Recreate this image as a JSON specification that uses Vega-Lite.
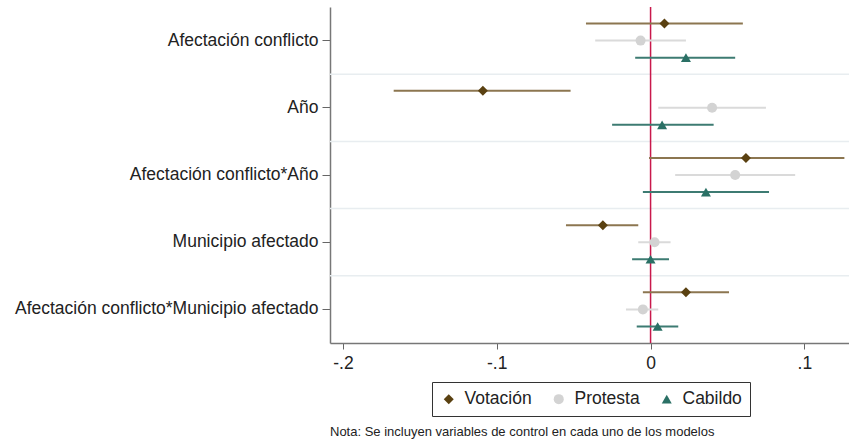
{
  "$schema": "https://vega.github.io/schema/vega-lite/v6.json",
  "width": 519,
  "height": 336,
  "autosize": "none",
  "padding": {"left": 330, "top": 7, "right": 0, "bottom": 99},
  "background": "white",
  "config": {
    "font": "Liberation Sans",
    "view": {"stroke": null}
  },
  "title": {
    "text": "Nota: Se incluyen variables de control en cada uno de los modelos",
    "orient": "bottom",
    "anchor": "start",
    "frame": "group",
    "fontSize": 13,
    "fontWeight": "normal",
    "font": "Liberation Sans",
    "color": "#222",
    "offset": 9
  },
  "data": {
    "values": [
      {"var": "Afectación conflicto", "modelo": "Votación", "b": 0.009, "lo": -0.042, "hi": 0.060},
      {"var": "Afectación conflicto", "modelo": "Protesta", "b": -0.0065, "lo": -0.036, "hi": 0.023},
      {"var": "Afectación conflicto", "modelo": "Cabildo", "b": 0.023, "lo": -0.010, "hi": 0.055},
      {"var": "Año", "modelo": "Votación", "b": -0.109, "lo": -0.167, "hi": -0.052},
      {"var": "Año", "modelo": "Protesta", "b": 0.040, "lo": 0.005, "hi": 0.075},
      {"var": "Año", "modelo": "Cabildo", "b": 0.0075, "lo": -0.025, "hi": 0.041},
      {"var": "Afectación conflicto*Año", "modelo": "Votación", "b": 0.062, "lo": -0.001, "hi": 0.126},
      {"var": "Afectación conflicto*Año", "modelo": "Protesta", "b": 0.055, "lo": 0.016, "hi": 0.094},
      {"var": "Afectación conflicto*Año", "modelo": "Cabildo", "b": 0.036, "lo": -0.005, "hi": 0.077},
      {"var": "Municipio afectado", "modelo": "Votación", "b": -0.031, "lo": -0.055, "hi": -0.008},
      {"var": "Municipio afectado", "modelo": "Protesta", "b": 0.0026, "lo": -0.008, "hi": 0.013},
      {"var": "Municipio afectado", "modelo": "Cabildo", "b": 0.0, "lo": -0.012, "hi": 0.012},
      {"var": "Afectación conflicto*Municipio afectado", "modelo": "Votación", "b": 0.023, "lo": -0.005, "hi": 0.051},
      {"var": "Afectación conflicto*Municipio afectado", "modelo": "Protesta", "b": -0.005, "lo": -0.016, "hi": 0.005},
      {"var": "Afectación conflicto*Municipio afectado", "modelo": "Cabildo", "b": 0.0046, "lo": -0.009, "hi": 0.018}
    ]
  },
  "encoding": {
    "y": {
      "field": "var",
      "type": "nominal",
      "sort": null,
      "scale": {"domain": ["Afectación conflicto", "Año", "Afectación conflicto*Año", "Municipio afectado", "Afectación conflicto*Municipio afectado"], "paddingInner": 0, "paddingOuter": 0},
      "axis": {
        "title": null,
        "labelFontSize": 17.5,
        "labelColor": "#222",
        "labelPadding": 4,
        "tickSize": 8,
        "tickColor": "#666",
        "domainColor": "#777",
        "domainWidth": 1.5,
        "grid": false,
        "labelLimit": 400
      }
    }
  },
  "layer": [
    {
      "data": {"values": [
        {"var": "Año"},
        {"var": "Afectación conflicto*Año"},
        {"var": "Municipio afectado"},
        {"var": "Afectación conflicto*Municipio afectado"}
      ]},
      "mark": {"type": "rule", "color": "#e8edf0", "strokeWidth": 1.5},
      "encoding": {
        "y": {"field": "var", "type": "nominal", "bandPosition": 0}
      }
    },
    {
      "data": {"values": [{"z": 0}]},
      "mark": {"type": "rule", "color": "#c8184b", "strokeWidth": 1.5},
      "encoding": {"x": {"field": "z", "type": "quantitative"}, "y": null}
    },
    {
      "mark": {"type": "rule", "strokeWidth": 2},
      "encoding": {
        "x": {"field": "lo", "type": "quantitative"},
        "x2": {"field": "hi"},
        "yOffset": {"field": "modelo", "type": "nominal", "sort": ["Votación", "Protesta", "Cabildo"], "scale": {"paddingInner": 0, "paddingOuter": 0.47}},
        "stroke": {"field": "modelo", "type": "nominal", "legend": null,
          "scale": {"domain": ["Cabildo", "Protesta", "Votación"], "range": ["#3d7b72", "#dadada", "#8c7650"]}}
      }
    },
    {
      "mark": {"type": "point", "filled": true, "opacity": 1, "size": 100},
      "encoding": {
        "x": {
          "field": "b",
          "type": "quantitative",
          "scale": {"domain": [-0.2084, 0.129], "nice": false, "zero": false},
          "axis": {
            "title": null,
            "values": [-0.2, -0.1, 0, 0.1],
            "labelExpr": "datum.value == 0 ? '0' : (datum.value < 0 ? '-' + replace(format(-datum.value, '.1f'), '0.', '.') : replace(format(datum.value, '.1f'), '0.', '.'))",
            "labelFontSize": 17.5,
            "labelColor": "#222",
            "labelPadding": 5,
            "tickSize": 6,
            "tickColor": "#666",
            "domainColor": "#777",
            "domainWidth": 1.5,
            "grid": false
          }
        },
        "yOffset": {"field": "modelo", "type": "nominal", "sort": ["Votación", "Protesta", "Cabildo"], "scale": {"paddingInner": 0, "paddingOuter": 0.47}},
        "color": {"field": "modelo", "type": "nominal",
          "scale": {"domain": ["Votación", "Protesta", "Cabildo"], "range": ["#5a4111", "#d3d3d3", "#2a7065"]},
          "legend": {
            "title": null,
            "orient": "none",
            "legendX": 102,
            "legendY": 375,
            "direction": "horizontal",
            "labelFontSize": 17.5,
            "labelColor": "#222",
            "labelOffset": 7,
            "symbolSize": 100,
            "strokeColor": "#333",
            "padding": 8,
            "columnPadding": 18,
            "symbolOffset": 0
          }
        },
        "shape": {"field": "modelo", "type": "nominal",
          "scale": {"domain": ["Votación", "Protesta", "Cabildo"], "range": ["diamond", "circle", "triangle-up"]}}
      }
    }
  ]
}
